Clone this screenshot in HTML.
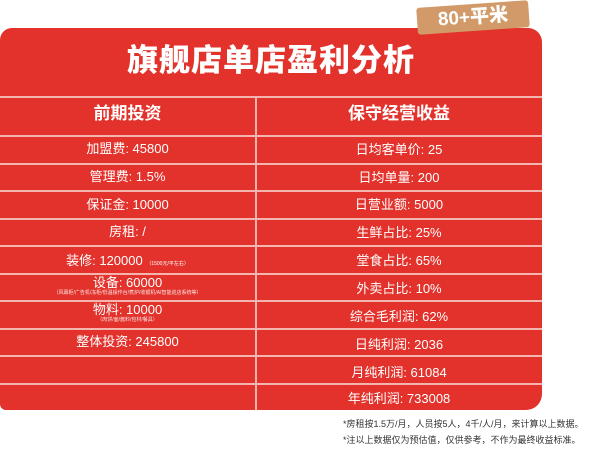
<!DOCTYPE html>
<html><head><meta charset="utf-8"><style>
body{margin:0;width:600px;height:451px;background:#fff;position:relative;overflow:hidden;font-family:"Liberation Sans","Noto Sans CJK SC",sans-serif;}
.box{position:absolute;left:0;top:28px;width:542px;height:382px;background:#e2322b;border-radius:12px 14px 16px 6px;}
.title{position:absolute;left:0;width:542px;top:35px;text-align:center;color:#fff;font-size:31px;font-weight:900;letter-spacing:1px;}
.hl{position:absolute;left:0;width:542px;height:1.5px;background:#f3b5ae;}
.vl{position:absolute;left:255px;width:1.5px;top:96px;height:314px;background:#f3b5ae;}
.c{position:absolute;color:#fff;text-align:center;font-size:13px;line-height:14px;white-space:nowrap;}
.L{left:0;width:255px}.R{left:256px;width:286px}
.h{font-size:17px;font-weight:bold}
.s{display:block;font-size:5px;line-height:7px;opacity:.85}
.badge{position:absolute;left:417px;top:4px;width:112px;height:27px;background:#d19a68;transform:rotate(-4deg);border-radius:3px;color:#fff;font-weight:900;font-size:19px;text-align:center;line-height:27px;}
.note{position:absolute;left:343px;font-size:9px;color:#333;white-space:nowrap;}
</style></head><body>
<div class="box"></div>
<div class="badge">80+平米</div>
<div class="title">旗舰店单店盈利分析</div>
<div class="hl" style="top:96px"></div>
<div class="hl" style="top:135px"></div>
<div class="hl" style="top:163px"></div>
<div class="hl" style="top:190px"></div>
<div class="hl" style="top:218px"></div>
<div class="hl" style="top:245px"></div>
<div class="hl" style="top:273px"></div>
<div class="hl" style="top:300px"></div>
<div class="hl" style="top:328px"></div>
<div class="hl" style="top:355px"></div>
<div class="hl" style="top:383px"></div>
<div class="vl"></div>
<div class="c L h" style="top:107px">前期投资</div>
<div class="c R h" style="top:107px">保守经营收益</div>
<div class="c L" style="top:142px">加盟费: 45800</div>
<div class="c L" style="top:170px">管理费: 1.5%</div>
<div class="c L" style="top:198px">保证金: 10000</div>
<div class="c L" style="top:225px">房租: /</div>
<div class="c L" style="top:254px">装修: 120000 <span style="font-size:5px">（1500元/平左右）</span></div>
<div class="c L" style="top:276px">设备: 60000<span class="s">（风幕柜/广告机/冻柜/低温操作台/煮炉/收银机/AI智能巡店系统等）</span></div>
<div class="c L" style="top:303px">物料: 10000<span class="s">（肉饼/面/酱料/包材/餐具）</span></div>
<div class="c L" style="top:335px">整体投资: 245800</div>
<div class="c R" style="top:143px">日均客单价: 25</div>
<div class="c R" style="top:171px">日均单量: 200</div>
<div class="c R" style="top:198px">日营业额: 5000</div>
<div class="c R" style="top:226px">生鲜占比: 25%</div>
<div class="c R" style="top:254px">堂食占比: 65%</div>
<div class="c R" style="top:282px">外卖占比: 10%</div>
<div class="c R" style="top:310px">综合毛利润: 62%</div>
<div class="c R" style="top:338px">日纯利润: 2036</div>
<div class="c R" style="top:366px">月纯利润: 61084</div>
<div class="c R" style="top:392px">年纯利润: 733008</div>
<div class="note" style="top:417px">*房租按1.5万/月，人员按5人，4千/人/月，来计算以上数据。</div>
<div class="note" style="top:433px">*注以上数据仅为预估值，仅供参考，不作为最终收益标准。</div>
</body></html>
